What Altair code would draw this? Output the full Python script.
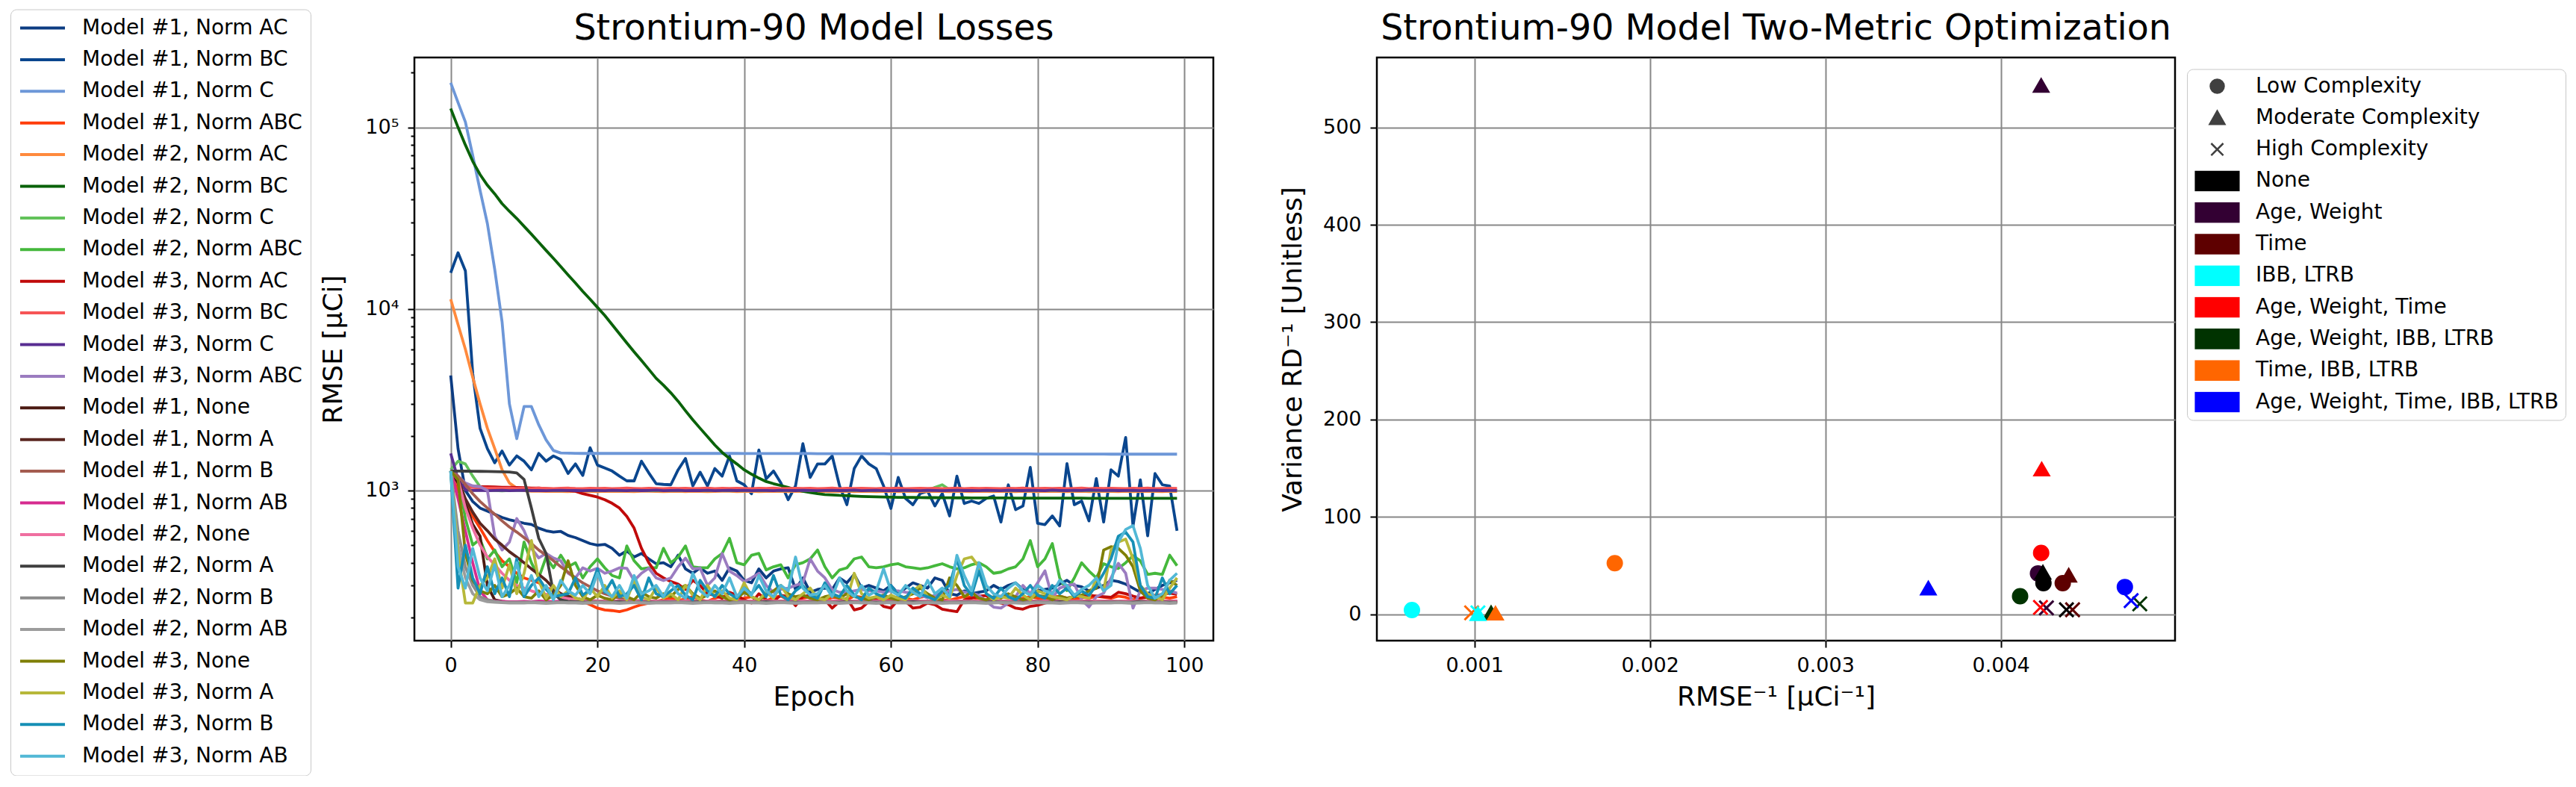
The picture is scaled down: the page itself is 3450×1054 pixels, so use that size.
import altair as alt
import pandas as pd

epochs = list(range(100))

series_names = [
    "Model #1, Norm AC", "Model #1, Norm BC", "Model #1, Norm C", "Model #1, Norm ABC",
    "Model #2, Norm AC", "Model #2, Norm BC", "Model #2, Norm C", "Model #2, Norm ABC",
    "Model #3, Norm AC", "Model #3, Norm BC", "Model #3, Norm C", "Model #3, Norm ABC",
    "Model #1, None", "Model #1, Norm A", "Model #1, Norm B", "Model #1, Norm AB",
    "Model #2, None", "Model #2, Norm A", "Model #2, Norm B", "Model #2, Norm AB",
    "Model #3, None", "Model #3, Norm A", "Model #3, Norm B", "Model #3, Norm AB",
]
series_colors = [
    "#0c3c82", "#0a468e", "#6d97d8", "#ff3d0a",
    "#ff8a3d", "#0a620a", "#62c25a", "#45b83c",
    "#c00a0a", "#f65556", "#592e92", "#9b7cc0",
    "#4b1a12", "#5a2620", "#a45c50", "#d62b8f",
    "#ef6fa0", "#3f3f3f", "#8c8c8c", "#9c9c9c",
    "#7f7f05", "#b7b83a", "#168fb5", "#52b8d6",
]

s01 = [4300, 1700, 1000, 870, 800, 770, 740, 710, 690, 675,
       660, 650, 620, 600, 590, 595, 565, 550, 530, 510,
       500, 505, 480, 440, 465, 430, 450, 420, 395, 400,
       380, 440, 370, 350, 375, 350, 360, 320, 375, 360,
       320, 310, 370, 330, 360, 370, 375, 285, 330, 275,
       285, 290, 285, 330, 310, 345, 290, 300, 290, 280,
       300, 270, 290, 310, 300, 290, 330, 320, 270, 265,
       280, 270, 275, 280, 300, 285, 300, 310, 285, 272,
       280, 285, 290, 305, 320, 300, 295, 280, 290, 300,
       320, 315, 305, 290, 275, 270, 285, 300, 310, 320]
s02 = [15800, 20400, 16200, 4400, 2200, 1700, 1420, 1650, 1380, 1550,
       1450, 1300, 1600, 1450, 1550, 1480, 1240, 1400, 1210, 1720,
       1380, 1330, 1280, 1200, 1130, 1130, 1450, 1250, 1090, 1080,
       1075, 1300, 1500, 1060, 1260, 1060, 1320, 1200, 1550, 1130,
       1075, 960, 1670, 1160, 1280, 1100, 890, 1060, 1810, 1180,
       1400, 1400, 1550, 1060, 835, 1320, 1550, 1400, 1320, 1060,
       796, 1180, 904, 835, 963, 993, 822, 963, 724, 1200,
       848, 875, 848, 904, 933, 670, 1075, 784, 822, 1340,
       659, 649, 724, 638, 1406, 835, 875, 680, 1163, 670,
       1300, 1200, 1959, 638, 1145, 563, 1239, 1075, 1058, 600]
s03 = [176000, 137000, 107000, 70000, 45000, 29500, 16500, 8500, 3000, 1930,
       2900, 2900, 2300, 1900, 1660, 1610, 1605, 1602, 1600, 1600,
       1600, 1600, 1600, 1600, 1600, 1600, 1600, 1600, 1600, 1600,
       1600, 1600, 1600, 1600, 1600, 1600, 1600, 1600, 1600, 1600,
       1598, 1598, 1598, 1598, 1598, 1598, 1598, 1598, 1598, 1598,
       1595, 1595, 1595, 1595, 1595, 1595, 1595, 1595, 1595, 1595,
       1592, 1592, 1592, 1592, 1592, 1592, 1592, 1592, 1592, 1592,
       1590, 1590, 1590, 1590, 1590, 1590, 1590, 1590, 1590, 1590,
       1587, 1587, 1587, 1587, 1587, 1587, 1587, 1587, 1587, 1587,
       1585, 1585, 1585, 1585, 1585, 1585, 1585, 1585, 1585, 1585]
s04 = [1250, 1000, 850, 720, 620, 530, 460, 410, 380, 350,
       330, 320, 310, 290, 285, 270, 260, 250, 245, 235,
       225, 220, 218, 215, 220, 228, 235, 240, 245, 250,
       255, 248, 252, 260, 250, 245, 255, 262, 250, 248,
       255, 260, 250, 245, 258, 262, 250, 248, 255, 260,
       252, 248, 258, 255, 250, 262, 258, 250, 255, 248,
       252, 260, 255, 250, 258, 262, 255, 250, 248, 255,
       260, 258, 252, 250, 255, 262, 258, 250, 255, 260,
       255, 250, 258, 262, 255, 250, 258, 255, 262, 258,
       255, 262, 258, 250, 255, 262, 265, 258, 255, 260]
s05 = [11300, 8200, 6000, 4200, 3000, 2200, 1700, 1300, 1100, 1030,
       998, 992, 990, 988, 991, 989, 987, 990, 992, 988,
       986, 990, 988, 991, 989, 986, 990, 992, 988, 987,
       989, 991, 987, 990, 988, 986, 989, 992, 990, 987,
       988, 990, 986, 989, 991, 988, 986, 990, 989, 987,
       990, 988, 986, 989, 991, 987, 990, 988, 986, 989,
       991, 987, 989, 990, 986, 988, 991, 989, 987, 990,
       988, 986, 990, 989, 987, 991, 988, 986, 990, 989,
       987, 990, 988, 991, 986, 989, 990, 987, 988, 991,
       989, 987, 990, 986, 988, 991, 989, 987, 990, 988]
s06 = [127000, 100000, 80000, 65000, 55000, 48000, 43000, 38000, 34500, 31500,
       28500, 25800, 23300, 21000, 19000, 17100, 15400, 13900, 12500, 11300,
       10200, 9200, 8200, 7300, 6500, 5800, 5200, 4650, 4150, 3800,
       3450, 3100, 2750, 2450, 2200, 1980, 1780, 1620, 1500, 1400,
       1300, 1230, 1170, 1120, 1090, 1065, 1040, 1010, 990, 975,
       960, 950, 945, 940, 937, 932, 928, 925, 922, 920,
       918, 917, 916, 915, 914, 913, 913, 912, 912, 911,
       911, 910, 910, 910, 909, 909, 909, 908, 908, 908,
       908, 908, 907, 907, 907, 907, 907, 906, 906, 906,
       906, 906, 906, 905, 905, 905, 905, 905, 905, 905]
s07 = [1300, 1450, 1400, 1200, 1050, 1010, 1000, 995, 1000, 1005,
       1002, 998, 1000, 1003, 999, 1001, 997, 1002, 1000, 998,
       1001, 999, 1003, 998, 1000, 1002, 997, 1001, 999, 1002,
       998, 1000, 1003, 999, 1001, 997, 1002, 1000, 998, 1001,
       999, 1003, 998, 1000, 1002, 997, 1001, 999, 1002, 998,
       1000, 1003, 999, 1001, 997, 1002, 1000, 998, 1001, 999,
       1003, 998, 1000, 1002, 997, 1001, 1040, 1075, 1010, 1000,
       1002, 998, 1000, 1003, 999, 1001, 997, 1002, 1000, 998,
       1001, 999, 1003, 998, 1000, 1002, 997, 1001, 999, 1002,
       998, 1000, 1003, 999, 1001, 997, 1002, 1000, 998, 1001]
s08 = [1300, 1200, 700, 500, 540, 420, 470, 380, 420, 310,
       520, 400, 330, 430, 375, 440, 380, 400, 330, 380,
       420, 375, 340, 330, 495, 410, 370, 375, 375, 480,
       400, 430, 495, 380, 375, 375, 420, 450, 545, 400,
       390, 440, 450, 365, 380, 390, 330, 390, 400, 420,
       470, 380, 330, 365, 375, 420, 430, 380, 375, 380,
       390, 395, 380, 375, 370, 375, 385, 395, 380, 370,
       375, 390, 400, 380, 350, 355, 370, 380, 420, 530,
       380, 420, 510, 330, 281, 330, 400, 360, 330, 395,
       380, 372, 400, 437, 410, 345, 350, 345, 440, 385]
s09 = [1250, 1080, 1060, 1055, 1050, 1048, 1045, 1042, 1040, 1038,
       1035, 1032, 1030, 1025, 1020, 1010, 1000, 990, 960, 940,
       920, 890, 850, 800, 720, 620, 480, 400, 350, 330,
       315, 305, 285, 320, 300, 270, 265, 255, 275, 265,
       250, 240, 270, 250, 245, 265, 260, 232, 260, 265,
       255, 250, 225, 245, 255, 220, 225, 245, 250, 230,
       225, 250, 245, 225, 228, 240, 235, 222, 218, 215,
       250, 255, 262, 264, 245, 240, 235, 225, 222, 230,
       233, 240, 245, 250, 255, 260, 262, 265, 262, 260,
       258, 275, 270, 262, 255, 258, 262, 268, 272, 268]
s10 = [1250, 1080, 1050, 1040, 1035, 1030, 1032, 1028, 1030, 1026,
       1028, 1025, 1030, 1027, 1024, 1028, 1030, 1026, 1025, 1028,
       1026, 1029, 1025, 1027, 1030, 1026, 1024, 1028, 1027, 1025,
       1029, 1026, 1028, 1024, 1027, 1030, 1025, 1028, 1026, 1029,
       1027, 1024, 1028, 1026, 1030, 1025, 1027, 1029, 1026, 1028,
       1024, 1027, 1030, 1025, 1028, 1026, 1029, 1027, 1024, 1028,
       1026, 1030, 1025, 1027, 1029, 1026, 1028, 1024, 1027, 1030,
       1025, 1028, 1026, 1029, 1027, 1024, 1028, 1026, 1030, 1025,
       1027, 1029, 1026, 1028, 1024, 1027, 1030, 1025, 1028, 1026,
       1029, 1027, 1024, 1028, 1026, 1030, 1025, 1027, 1029, 1026]
s11 = [1600, 1150, 1010, 1000, 1002, 998, 1000, 1003, 997, 1000,
       1002, 999, 1001, 998, 1000, 1003, 1001, 999, 997, 1000,
       1001, 998, 1003, 1000, 997, 1002, 999, 1001, 1004, 998,
       1000, 1002, 997, 1001, 999, 1003, 998, 1000, 1002, 999,
       1003, 998, 1000, 1001, 997, 1002, 1000, 999, 1003, 1001,
       998, 1000, 1002, 999, 1001, 1004, 998, 1000, 1002, 997,
       1001, 999, 1003, 1000, 998, 1002, 1001, 997, 1000, 1003,
       999, 1001, 998, 1002, 1000, 997, 1003, 1001, 999, 1002,
       1000, 998, 1004, 1001, 999, 1002, 1000, 1006, 1003, 1000,
       1002, 999, 1001, 1003, 998, 1000, 1002, 999, 1001, 1000]
s12 = [1300, 1200, 1100, 1060, 1050, 1000, 560, 470, 520, 700,
       600, 480, 425, 450, 425, 410, 350, 330, 375, 360,
       373, 350, 360, 375, 373, 319, 350, 373, 330, 319,
       330, 380, 424, 370, 373, 300, 330, 450, 360, 340,
       315, 330, 350, 300, 275, 285, 290, 300, 310, 420,
       360, 330, 285, 275, 275, 280, 285, 280, 280, 275,
       280, 280, 275, 272, 265, 256, 265, 272, 280, 285,
       275, 272, 265, 245, 228, 225, 240, 260, 300, 270,
       310, 361, 256, 290, 300, 305, 250, 228, 260, 272,
       330, 397, 350, 225, 280, 290, 290, 285, 280, 272]
s13 = [1280, 1100, 850, 650, 560, 300, 250, 245, 243, 242,
       243, 242, 244, 243, 242, 244, 243, 242, 243, 244,
       242, 243, 242, 244, 243, 242, 243, 244, 242, 243,
       243, 242, 244, 243, 242, 244, 243, 242, 243, 244,
       242, 243, 242, 244, 243, 242, 243, 244, 242, 243,
       243, 242, 244, 243, 242, 244, 243, 242, 243, 244,
       242, 243, 242, 244, 243, 242, 243, 244, 242, 243,
       243, 242, 244, 243, 242, 244, 243, 242, 243, 244,
       242, 243, 242, 244, 243, 242, 243, 244, 242, 243,
       243, 242, 244, 243, 242, 244, 243, 242, 243, 244]
s14 = [1280, 1150, 900, 760, 660, 600, 540, 500, 460, 430,
       400, 370, 345, 320, 290, 270, 262, 255, 250, 248,
       246, 245, 244, 246, 245, 244, 245, 246, 244, 245,
       245, 244, 246, 245, 244, 246, 245, 244, 245, 246,
       244, 245, 244, 246, 245, 244, 245, 246, 244, 245,
       245, 244, 246, 245, 244, 246, 245, 244, 245, 246,
       244, 245, 244, 246, 245, 244, 245, 246, 244, 245,
       245, 244, 246, 245, 244, 246, 245, 244, 245, 246,
       244, 245, 244, 246, 245, 244, 245, 246, 244, 245,
       245, 244, 246, 245, 244, 246, 245, 244, 245, 246]
s15 = [1280, 1200, 1080, 960, 870, 800, 740, 680, 630, 590,
       550, 510, 470, 440, 410, 380, 355, 330, 310, 295,
       280, 270, 262, 255, 250, 248, 247, 246, 245, 245,
       244, 245, 244, 246, 245, 244, 245, 246, 244, 245,
       245, 244, 246, 245, 244, 246, 245, 244, 245, 246,
       244, 245, 244, 246, 245, 244, 245, 246, 244, 245,
       245, 244, 246, 245, 244, 246, 245, 244, 245, 246,
       244, 245, 244, 246, 245, 244, 245, 246, 244, 245,
       245, 244, 246, 245, 244, 246, 245, 244, 245, 246,
       244, 245, 244, 246, 245, 244, 245, 246, 244, 245]
s16 = [1280, 900, 600, 400, 280, 250, 246, 245, 244, 244,
       245, 244, 246, 245, 244, 246, 245, 244, 245, 246,
       244, 245, 244, 246, 245, 244, 245, 246, 244, 245,
       245, 244, 246, 245, 244, 246, 245, 244, 245, 246,
       244, 245, 244, 246, 245, 244, 245, 246, 244, 245,
       245, 244, 246, 245, 244, 246, 245, 244, 245, 246,
       244, 245, 244, 246, 245, 244, 245, 246, 244, 245,
       245, 244, 246, 245, 244, 246, 245, 244, 245, 246,
       244, 245, 244, 246, 245, 244, 245, 246, 244, 245,
       245, 244, 246, 245, 244, 246, 245, 244, 245, 246]
s17 = [1280, 1150, 800, 620, 500, 430, 390, 350, 320, 300,
       290, 280, 272, 268, 264, 258, 254, 250, 248, 247,
       246, 245, 246, 247, 245, 246, 245, 247, 246, 245,
       246, 245, 247, 246, 245, 246, 247, 245, 246, 245,
       245, 246, 245, 247, 246, 245, 246, 245, 247, 246,
       246, 245, 247, 246, 245, 246, 247, 245, 246, 245,
       245, 246, 245, 247, 246, 245, 246, 245, 247, 246,
       246, 245, 247, 246, 245, 246, 247, 245, 246, 245,
       245, 246, 245, 247, 246, 245, 246, 245, 247, 246,
       246, 245, 247, 246, 245, 246, 247, 245, 246, 245]
s18 = [1280, 1280, 1278, 1276, 1275, 1273, 1270, 1268, 1265, 1250,
       1150, 800, 545, 450, 272, 250, 245, 244, 243, 243,
       243, 242, 243, 244, 243, 242, 243, 243, 242, 243,
       243, 243, 242, 243, 244, 243, 242, 243, 243, 242,
       243, 242, 243, 244, 243, 242, 243, 243, 242, 243,
       243, 243, 242, 243, 244, 243, 242, 243, 243, 242,
       243, 242, 243, 244, 243, 242, 243, 243, 242, 243,
       243, 243, 242, 243, 244, 243, 242, 243, 243, 242,
       243, 242, 243, 244, 243, 242, 243, 243, 242, 243,
       243, 243, 242, 243, 244, 243, 242, 243, 243, 242]
s19 = [1280, 600, 380, 300, 260, 250, 245, 243, 242, 242,
       242, 243, 242, 241, 242, 243, 242, 242, 241, 242,
       243, 242, 242, 241, 242, 243, 242, 241, 242, 242,
       242, 243, 242, 241, 242, 243, 242, 242, 241, 242,
       243, 242, 242, 241, 242, 243, 242, 241, 242, 242,
       242, 243, 242, 241, 242, 243, 242, 242, 241, 242,
       243, 242, 242, 241, 242, 243, 242, 241, 242, 242,
       242, 243, 242, 241, 242, 243, 242, 242, 241, 242,
       243, 242, 242, 241, 242, 243, 242, 241, 242, 242,
       242, 243, 242, 241, 242, 243, 242, 242, 241, 242]
s20 = [1280, 500, 330, 270, 250, 244, 242, 241, 240, 240,
       240, 241, 240, 239, 240, 241, 240, 240, 239, 240,
       241, 240, 240, 239, 240, 241, 240, 239, 240, 240,
       240, 241, 240, 239, 240, 241, 240, 240, 239, 240,
       241, 240, 240, 239, 240, 241, 240, 239, 240, 240,
       240, 241, 240, 239, 240, 241, 240, 240, 239, 240,
       241, 240, 240, 239, 240, 241, 240, 239, 240, 240,
       240, 241, 240, 239, 240, 241, 240, 240, 239, 240,
       241, 240, 240, 239, 240, 241, 240, 239, 240, 240,
       240, 241, 240, 239, 240, 241, 240, 240, 239, 240]
s21 = [1280, 1150, 450, 320, 280, 270, 300, 260, 270, 290,
       260, 255, 280, 250, 265, 300, 410, 300, 260, 250,
       265, 255, 250, 270, 260, 250, 275, 260, 255, 270,
       260, 285, 300, 270, 255, 265, 280, 260, 250, 255,
       275, 260, 250, 265, 280, 300, 270, 260, 265, 255,
       250, 260, 265, 255, 270, 260, 255, 250, 260, 265,
       255, 250, 260, 270, 290, 270, 255, 250, 330, 300,
       260, 275, 255, 250, 260, 255, 270, 260, 250, 255,
       265, 260, 250, 262, 255, 260, 265, 280, 290, 470,
       490, 480, 440, 380, 280, 255, 250, 265, 320, 300]
s22 = [1280, 450, 240, 240, 300, 330, 420, 290, 390, 270,
       350, 530, 320, 255, 300, 260, 280, 255, 250, 290,
       260, 300, 255, 280, 250, 320, 260, 250, 290, 255,
       270, 250, 300, 265, 250, 300, 260, 280, 255, 250,
       310, 260, 250, 275, 255, 300, 260, 250, 270, 290,
       255, 250, 270, 260, 250, 350, 270, 255, 260, 250,
       265, 255, 250, 280, 300, 260, 250, 265, 255, 340,
       420, 430, 380, 270, 250, 260, 255, 290, 265, 250,
       280, 270, 260, 255, 250, 265, 260, 255, 330, 280,
       470, 520, 540, 420, 300, 270, 260, 250, 290, 330]
s23 = [1280, 290, 500, 330, 270, 380, 270, 330, 260, 420,
       260, 300, 330, 285, 260, 265, 270, 330, 265, 285,
       370, 275, 320, 260, 270, 300, 250, 330, 270, 260,
       280, 300, 265, 250, 320, 280, 260, 300, 270, 255,
       290, 270, 300, 260, 340, 265, 250, 280, 300, 265,
       255, 310, 270, 260, 300, 265, 250, 290, 270, 260,
       300, 265, 255, 290, 270, 260, 250, 280, 300, 420,
       300, 265, 360, 270, 255, 290, 260, 250, 270, 300,
       265, 255, 300, 270, 290, 260, 280, 265, 300, 350,
       420, 560, 590, 520, 300, 260, 255, 330, 270, 300]
s24 = [1280, 380, 290, 480, 330, 280, 390, 260, 300, 400,
       270, 340, 260, 300, 250, 320, 280, 265, 300, 270,
       350, 280, 260, 300, 255, 340, 270, 280, 300, 260,
       310, 270, 255, 350, 280, 260, 300, 270, 330, 260,
       290, 265, 340, 280, 260, 300, 280, 430, 290, 265,
       270, 300, 260, 330, 280, 260, 300, 265, 280, 370,
       280, 265, 300, 275, 260, 320, 270, 290, 260, 440,
       340, 280, 400, 300, 270, 260, 290, 310, 280, 265,
       300, 280, 270, 320, 300, 265, 285, 300, 330, 280,
       300, 520, 610, 640, 480, 300, 255, 270, 320, 350]

loss_series = [s01, s02, s03, s04, s05, s06, s07, s08, s09, s10, s11, s12,
               s13, s14, s15, s16, s17, s18, s19, s20, s21, s22, s23, s24]

rows = []
for name, vals in zip(series_names, loss_series):
    for e, v in zip(epochs, vals):
        rows.append({"series": name, "epoch": e, "rmse": v})
loss_df = pd.DataFrame(rows)

# ---------------- right panel data ----------------
groups = ["None", "Age, Weight", "Time", "IBB, LTRB", "Age, Weight, Time",
          "Age, Weight, IBB, LTRB", "Time, IBB, LTRB", "Age, Weight, Time, IBB, LTRB"]
group_colors = ["#000000", "#330033", "#5e0000", "#00ffff", "#ff0000",
                "#003300", "#ff6600", "#0000ff"]
complexities = ["Low Complexity", "Moderate Complexity", "High Complexity"]

pt_group = ["Age, Weight"] * 3 + ["Time"] * 3 + ["Age, Weight, Time"] * 3 + \
           ["Age, Weight, IBB, LTRB"] * 3 + ["Time, IBB, LTRB"] * 3 + ["IBB, LTRB"] * 3 + \
           ["Age, Weight, Time, IBB, LTRB"] * 3 + ["None"] * 3
pt_complexity = complexities * 8
pt_inv_rmse = [0.004212, 0.00423, 0.00426,
               0.004353, 0.004387, 0.004409,
               0.00423, 0.004233, 0.004226,
               0.00411, 0.001095, 0.004792,
               0.0018, 0.00112, 0.000984,
               0.000644, 0.00102, 0.00102,
               0.004707, 0.003587, 0.004743,
               0.004243, 0.00424, 0.004374]
pt_inv_var = [42, 543, 6.5,
              32, 40, 4.6,
              63, 149, 7,
              18.5, 1.5, 10.7,
              52.4, 1.0, 1.5,
              4.4, 0.5, 1.5,
              28, 26.8, 14,
              32, 43, 4.6]
pts_df = pd.DataFrame({"group": pt_group, "complexity": pt_complexity,
                       "inv_rmse": pt_inv_rmse, "inv_var": pt_inv_var})

X_PATH = "M-1,-1L1,1M-1,1L1,-1"
LEG_CIRCLE = "M-0.3,0A0.3,0.3,0,1,1,0.3,0A0.3,0.3,0,1,1,-0.3,0Z"
LEG_TRI = "M0,-0.3L0.33,0.28L-0.33,0.28Z"
LEG_X = "M-0.27,-0.27L0.27,0.27M-0.27,0.27L0.27,-0.27"
LEG_RECT = "M-0.96,-0.42H0.96V0.42H-0.96Z"

legend_labels = complexities + groups
legend_colors = ["#404040"] * 3 + group_colors
legend_shapes = [LEG_CIRCLE, LEG_TRI, LEG_X] + [LEG_RECT] * 8
legend_df = pd.DataFrame({"entry": legend_labels})

FONT = "DejaVu Sans"

# ---------------- left panel ----------------
major = [1000, 10000, 100000]
y_ticks = [200, 300, 400, 500, 600, 700, 800, 900,
           1000, 2000, 3000, 4000, 5000, 6000, 7000, 8000, 9000,
           10000, 20000, 30000, 40000, 50000, 60000, 70000, 80000, 90000,
           100000, 200000]
major_test = "indexof([1000, 10000, 100000], datum.value) >= 0"

left = alt.Chart(loss_df).mark_line(strokeWidth=3.8, strokeJoin="round", clip=True).encode(
    x=alt.X("epoch:Q",
            scale=alt.Scale(domain=[-4.95, 103.95], nice=False, zero=False),
            axis=alt.Axis(values=[0, 20, 40, 60, 80, 100], title="Epoch",
                          titlePadding=12, labelPadding=11, tickSize=9)),
    y=alt.Y("rmse:Q",
            scale=alt.Scale(type="log", domain=[148.9, 242600], nice=False),
            axis=alt.Axis(values=y_ticks,
                          labelExpr="datum.value == 1000 ? '10³' : datum.value == 10000 ? '10⁴' : datum.value == 100000 ? '10⁵' : ''",
                          tickSize={"condition": {"test": major_test, "value": 9}, "value": 5},
                          gridOpacity={"condition": {"test": major_test, "value": 1}, "value": 0},
                          title="RMSE [μCi]", titlePadding=23, labelPadding=12)),
    color=alt.Color("series:N",
                    scale=alt.Scale(domain=series_names, range=series_colors),
                    legend=alt.Legend(title=None, orient="none", legendX=-541, legendY=-64.5,
                                      symbolType="stroke", symbolSize=3600, symbolStrokeWidth=4,
                                      labelFont=FONT, labelFontSize=28, labelColor="black",
                                      labelOffset=21, labelLimit=1000, padding=11,
                                      rowPadding=14.4, clipHeight=28,
                                      strokeColor="#c8c8c8", cornerRadius=8,
                                      fillColor="white")),
).properties(width=1070, height=781, title="Strontium-90 Model Losses")

# ---------------- right panel ----------------
points = alt.Chart(pts_df).mark_point(filled=True, size=361, strokeWidth=3, opacity=1).encode(
    x=alt.X("inv_rmse:Q",
            scale=alt.Scale(domain=[0.000444, 0.004993], nice=False, zero=False),
            axis=alt.Axis(values=[0.001, 0.002, 0.003, 0.004], format=".3f",
                          title="RMSE⁻¹ [μCi⁻¹]", titlePadding=12, labelPadding=11, tickSize=9)),
    y=alt.Y("inv_var:Q",
            scale=alt.Scale(domain=[-27.1, 571.8], nice=False, zero=False),
            axis=alt.Axis(values=[0, 100, 200, 300, 400, 500],
                          title="Variance RD⁻¹ [Unitless]", titlePadding=21,
                          labelPadding=12, tickSize=9)),
    color=alt.Color("group:N", scale=alt.Scale(domain=groups, range=group_colors), legend=None),
    stroke=alt.Stroke("group:N", scale=alt.Scale(domain=groups, range=group_colors), legend=None),
    shape=alt.Shape("complexity:N",
                    scale=alt.Scale(domain=complexities, range=["circle", "triangle-up", X_PATH]),
                    legend=None),
)

leg_cfg = alt.Legend(title=None, orient="none", legendX=1085, legendY=15.5,
                     symbolSize=3600, symbolStrokeWidth=2.5, symbolOpacity=1,
                     labelFont=FONT, labelFontSize=28, labelColor="black",
                     labelOffset=20, labelLimit=1000, padding=9,
                     rowPadding=14.3, clipHeight=28,
                     strokeColor="#c8c8c8", cornerRadius=8, fillColor="white")

legend_layer = alt.Chart(legend_df).mark_point(filled=True, opacity=0).encode(
    color=alt.Color("entry:N", scale=alt.Scale(domain=legend_labels, range=legend_colors), legend=leg_cfg),
    stroke=alt.Stroke("entry:N", scale=alt.Scale(domain=legend_labels, range=legend_colors), legend=leg_cfg),
    shape=alt.Shape("entry:N", scale=alt.Scale(domain=legend_labels, range=legend_shapes), legend=leg_cfg),
)

right = alt.layer(points, legend_layer).resolve_scale(
    color="independent", stroke="independent", shape="independent"
).properties(width=1069, height=781, title="Strontium-90 Model Two-Metric Optimization")

chart = alt.hconcat(left, right, spacing=85).properties(
    padding={"left": 13, "top": 12, "right": 0, "bottom": 0},
    background="white",
).configure(font=FONT).configure_view(
    stroke="black", strokeWidth=2.5
).configure_axis(
    labelFont=FONT, labelFontSize=27, labelColor="black",
    titleFont=FONT, titleFontSize=36, titleFontWeight="normal", titleColor="black",
    tickColor="black", tickWidth=2, gridColor="#888888", gridWidth=2,
    domain=False, labelFlush=False, labelOverlap=False,
).configure_title(
    font=FONT, fontSize=47.5, fontWeight="normal", color="black",
    anchor="middle", frame="group", offset=14.5, baseline="alphabetic",
)

chart.save("out.html", embed_options={"renderer": "svg", "actions": False})
